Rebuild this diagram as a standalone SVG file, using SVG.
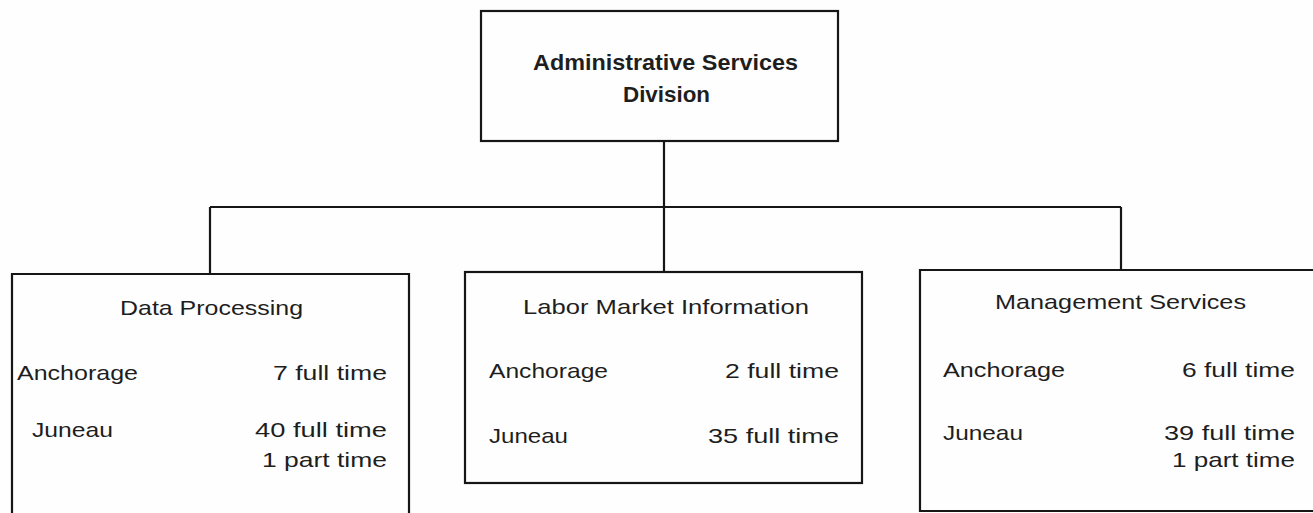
<svg xmlns="http://www.w3.org/2000/svg" width="1313" height="513" viewBox="0 0 1313 513">
<style>
.box{fill:none;stroke:#161616;stroke-width:2.2}
.ln{fill:none;stroke:#161616;stroke-width:2.2}
text{font-family:"Liberation Sans",Arial,sans-serif;fill:#1e1e1e;font-size:21px}
.t{font-weight:bold;font-size:22px}
.r{text-anchor:end}
</style>
<rect width="1313" height="513" fill="#fefefe"/>
<g id="connectors">
<path class="ln" d="M664 141 V207 M210 207 H1121 M210 207 V274 M664 207 V272 M1121 207 V270"/>
</g>
<g id="admin">
<rect class="box" x="481" y="11" width="357" height="130"/>
<text class="t" x="533" y="70" textLength="265" lengthAdjust="spacingAndGlyphs">Administrative Services</text>
<text class="t" x="623" y="102" textLength="87" lengthAdjust="spacingAndGlyphs">Division</text>
</g>
<g id="data-processing">
<path class="box" d="M12 513 V274 H409 V513"/>
<text x="120" y="315" textLength="183" lengthAdjust="spacingAndGlyphs">Data Processing</text>
<text x="17" y="380" textLength="121" lengthAdjust="spacingAndGlyphs">Anchorage</text>
<text x="273" y="380" textLength="114" lengthAdjust="spacingAndGlyphs">7 full time</text>
<text x="32" y="437" textLength="81" lengthAdjust="spacingAndGlyphs">Juneau</text>
<text x="255" y="437" textLength="132" lengthAdjust="spacingAndGlyphs">40 full time</text>
<text x="262" y="467" textLength="125" lengthAdjust="spacingAndGlyphs">1 part time</text>
</g>
<g id="labor-market">
<rect class="box" x="465" y="272" width="397" height="211"/>
<text x="523" y="314" textLength="286" lengthAdjust="spacingAndGlyphs">Labor Market Information</text>
<text x="489" y="378" textLength="119" lengthAdjust="spacingAndGlyphs">Anchorage</text>
<text x="725" y="378" textLength="114" lengthAdjust="spacingAndGlyphs">2 full time</text>
<text x="489" y="443" textLength="79" lengthAdjust="spacingAndGlyphs">Juneau</text>
<text x="708" y="443" textLength="131" lengthAdjust="spacingAndGlyphs">35 full time</text>
</g>
<g id="management">
<path class="box" d="M1313 270 H920 V511 H1313"/>
<text x="995" y="309" textLength="251" lengthAdjust="spacingAndGlyphs">Management Services</text>
<text x="943" y="377" textLength="122" lengthAdjust="spacingAndGlyphs">Anchorage</text>
<text x="1182" y="377" textLength="113" lengthAdjust="spacingAndGlyphs">6 full time</text>
<text x="943" y="440" textLength="80" lengthAdjust="spacingAndGlyphs">Juneau</text>
<text x="1164" y="440" textLength="131" lengthAdjust="spacingAndGlyphs">39 full time</text>
<text x="1172" y="467" textLength="123" lengthAdjust="spacingAndGlyphs">1 part time</text>
</g>
</svg>
